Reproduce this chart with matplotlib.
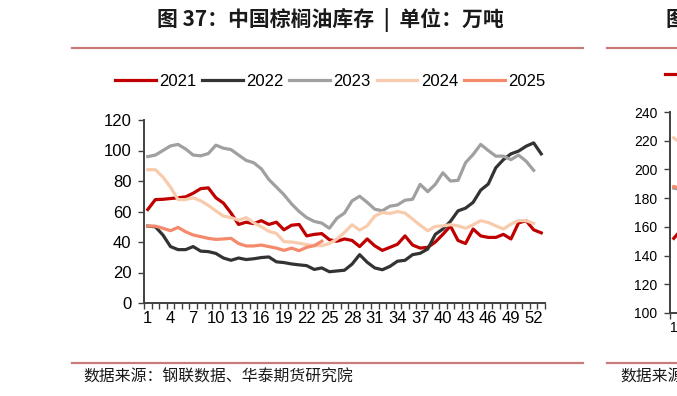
"""China palm oil inventory by week, 2021-2025 (unit: 10k tonnes)."""

import matplotlib.pyplot as plt
import numpy as np
from matplotlib.lines import Line2D

plt.rcParams["font.family"] = ["Liberation Sans", "Noto Sans CJK SC", "DejaVu Sans"]

TITLE = "图 37：中国棕榈油库存  |  单位：万吨"
SOURCE = "数据来源：钢联数据、华泰期货研究院"
NEXT_TITLE = "图 38：中国豆油库存  |  单位：万吨"

years = ["2021", "2022", "2023", "2024", "2025"]
colors = ["#C00000", "#333333", "#A0A0A0", "#F8CBAD", "#F4896B"]

y2021 = [61.3, 67.8, 68, 68.5, 69, 69.6, 72, 75, 75.5, 69, 65.5, 59, 51.5, 53, 52, 54, 51.5,
         53, 48, 51, 51.5, 44, 45, 45.5, 41.5, 40.5, 42, 41, 37, 42, 37.5, 34.5, 36.5, 38.5,
         44, 38, 36, 36.5, 40, 45, 50.5, 41, 39, 48.5, 44, 43, 43, 45, 42, 52.5, 54, 48, 46]
y2022 = [50.4, 50, 44.6, 37, 35, 35, 37, 34, 33.7, 32.5, 29.5, 28, 29.5, 28.5, 29, 29.8, 30.2,
         27, 26.5, 25.6, 25, 24.5, 22, 23, 20.5, 21, 21.5, 25.5, 31.7, 26.7, 23, 21.8, 24, 27.4,
         28, 31.7, 32.6, 35.4, 45, 48.5, 53.5, 60.4, 62.2, 66, 74, 78, 88.7, 94, 97.8, 99.6,
         102.8, 105, 97.8]
y2023 = [96, 97, 100, 103, 104, 101, 97, 96.5, 98, 103.5, 101.5, 100.6, 97, 93.5, 92, 88, 81,
         76, 71, 65, 60, 56, 53.5, 52.4, 49, 55.6, 59, 67, 70, 66, 61.5, 60.5, 63.5, 64.3, 67.4,
         68, 77.8, 73, 77.8, 85.4, 80, 80.4, 92, 97.4, 104, 100, 96.3, 96.3, 94, 97, 93, 87]
y2024 = [87.4, 87.4, 82.6, 76, 67.8, 67.8, 69, 67, 64, 60.4, 57, 56, 54.3, 56, 52.6, 50, 47,
         45.6, 40.2, 40, 39.2, 38.3, 37.6, 37.6, 39, 42, 46.3, 51.3, 47.8, 50.6, 57, 59.3, 58.7,
         60, 59, 55, 51, 47.4, 50.2, 50.6, 51.3, 50.6, 49, 51.3, 54, 52.8, 50.6, 48.5, 51.7, 54,
         54, 52.2]
y2025 = [50.4, 50.4, 49, 47.4, 49.6, 46.7, 44.6, 43.5, 42.4, 41.7, 42, 42.4, 39, 37.4, 37.4, 38,
         37, 36, 34.5, 36, 34.3, 36.5, 37.6, 40.5]
series = [y2021, y2022, y2023, y2024, y2025]

# neighbouring chart, only its first week is visible at the right edge
next_years = ["2021", "2023", "2024", "2025"]
next_colors = ["#C00000", "#A0A0A0", "#F8CBAD", "#F4896B"]
next_series = [[152, 158], [187, 186], [222, 218], [188, 187]]

W, H = 677, 396
fig = plt.figure(figsize=(W / 100, H / 100), dpi=100)


def fx(px):
    return px / W


def fy(py):
    return 1 - py / H


cjk = ["Noto Sans CJK SC", "DejaVu Sans"]

# frame lines and texts
for x0, x1 in [(72, 583), (607, 700)]:
    for py in (48, 363):
        fig.add_artist(Line2D([fx(x0), fx(x1)], [fy(py), fy(py)], color="#C97B7B", lw=1.6))
fig.text(fx(330), fy(20), TITLE, ha="center", va="center", fontsize=15, fontweight="bold",
         family=cjk, color="#1a1a1a")
fig.text(fx(666), fy(20), NEXT_TITLE, ha="left", va="center", fontsize=15, fontweight="bold",
         family=cjk, color="#1a1a1a")
fig.text(fx(83), fy(377), SOURCE, ha="left", va="center", fontsize=11.4, family=cjk,
         color="#1a1a1a")
fig.text(fx(620), fy(377), SOURCE, ha="left", va="center", fontsize=11.4, family=cjk,
         color="#1a1a1a")


def style_axis(ax, ymin, ymax, ystep, labelsize):
    for side in ("top", "right"):
        ax.spines[side].set_visible(False)
    for side in ("left", "bottom"):
        ax.spines[side].set_color("#404040")
        ax.spines[side].set_linewidth(1.4)
    ax.set_ylim(ymin, ymax)
    ax.set_yticks(np.arange(ymin, ymax + 1, ystep))
    ax.set_xlim(0.5, 53.5)
    ax.set_xticks(np.arange(1, 54, 3))
    ax.set_xticks(np.arange(0.5, 54, 1), minor=True)
    ax.tick_params(axis="x", which="major", length=0, pad=6, labelsize=labelsize)
    ax.tick_params(axis="x", which="minor", length=4, width=1, color="#404040", direction="out")
    ax.tick_params(axis="y", length=4, width=1, color="#404040", pad=5, labelsize=labelsize)
    ax.patch.set_alpha(0)


# main chart
ax = fig.add_axes([fx(144), fy(303), fx(545) - fx(144), fy(120) - fy(303)])
style_axis(ax, 0, 120, 20, 12)
for year, vals, col in zip(years, series, colors):
    weeks = np.arange(1, len(vals) + 1)
    ax.plot(weeks, vals, color=col, lw=2.3, label=year, solid_joinstyle="round")

fig.legend(*ax.get_legend_handles_labels(), loc="center", ncol=5,
           bbox_to_anchor=(fx(330), fy(81)), frameon=False, fontsize=12,
           handlelength=2.45, handletextpad=0.2, columnspacing=0.35)

# clipped neighbouring chart
ax2 = fig.add_axes([fx(670), fy(313), fx(1070) - fx(670), fy(112) - fy(313)])
style_axis(ax2, 100, 240, 20, 10)
for year, vals, col in zip(next_years, next_series, next_colors):
    weeks = np.arange(1, len(vals) + 1)
    ax2.plot(weeks, vals, color=col, lw=2.3, label=year)
fig.legend(*ax2.get_legend_handles_labels(), loc="center left", ncol=4,
           bbox_to_anchor=(fx(650), fy(75)), frameon=False, fontsize=12,
           handlelength=2.6, handletextpad=0.25, columnspacing=0.4)

fig.savefig("out.png", dpi=100)
